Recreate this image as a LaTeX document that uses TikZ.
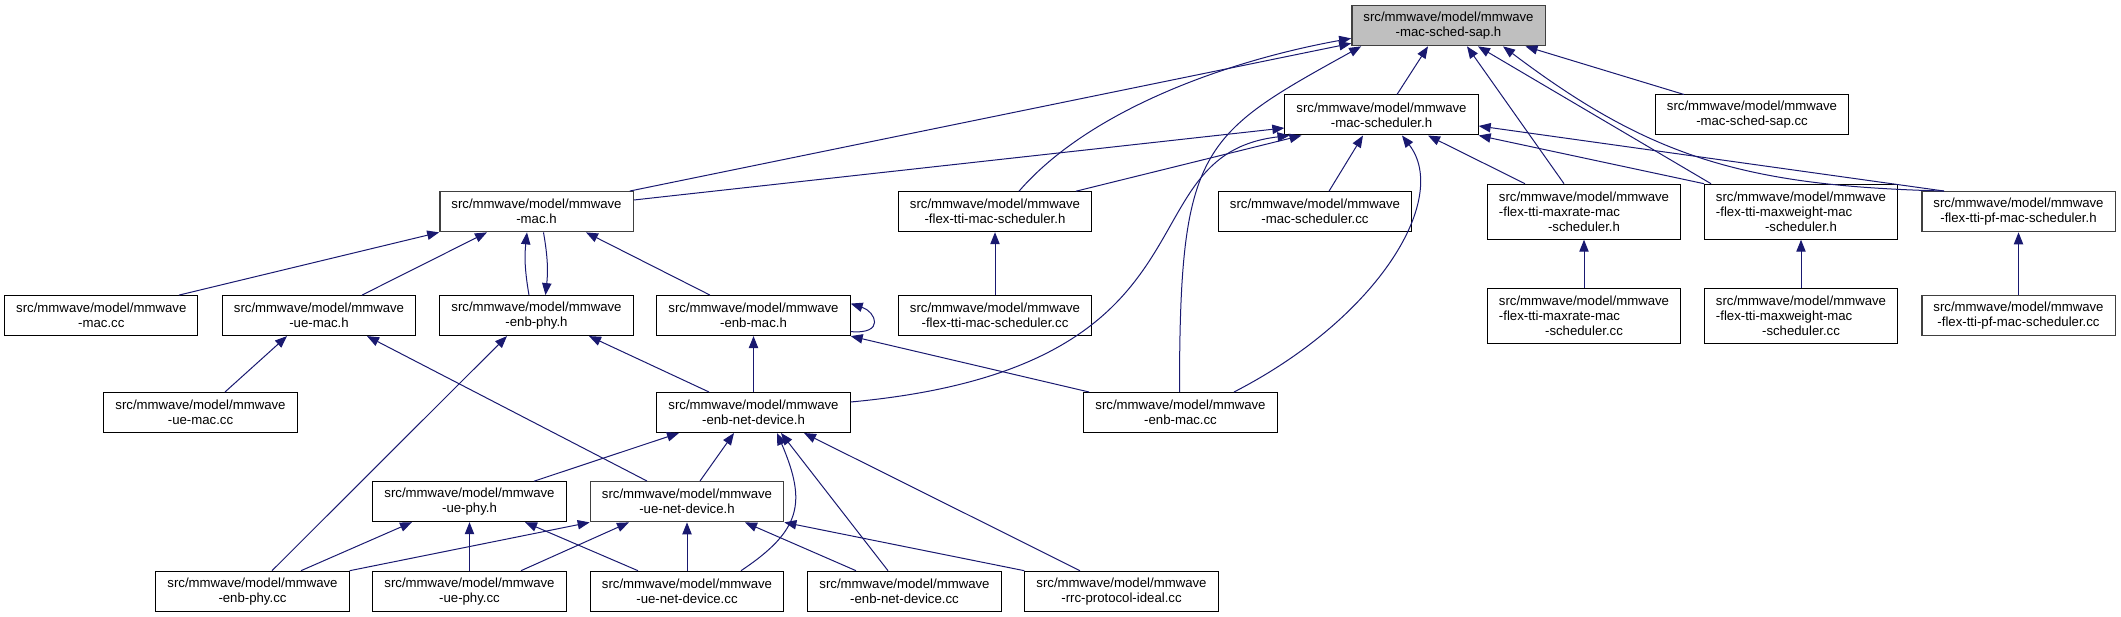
\documentclass[tikz,border=0pt]{standalone}
\usepackage{fontspec}
\setmainfont{Liberation Sans}
\usetikzlibrary{arrows.meta}
\definecolor{navy}{HTML}{191970}
\definecolor{rim}{HTML}{404040}
\newcommand{\pth}{src/mmwave/model/mmwave}
\newcommand{\padl}[1]{\rlap{#1}\phantom{\pth}}

\begin{document}
\begin{tikzpicture}[x=0.75pt, y=0.75pt, every node/.style={draw, rectangle, line width=0.75pt, minimum width=145pt, minimum height=30pt, inner sep=0pt, align=center, font=\fontsize{9.9}{11.25}\selectfont}, tall/.style={minimum height=41.25pt}, dim/.style={draw=rim, line width=1pt}, root/.style={dim, fill=gray!50}, inc/.style={draw=navy, line width=0.75pt, -{Triangle[length=9pt, width=7pt]}}]

		\useasboundingbox (0,0) rectangle (2121,617);

		% rank 0 and 1
		\node[root] (sap) at (1448.5,591.3) {\pth\\-mac-sched-sap.h};
		\node (msched) at (1381.5,502) {\pth\\-mac-scheduler.h};
		\node (sapcc) at (1752,502) {\pth\\-mac-sched-sap.cc};

		% rank 2
		\node[dim] (mac) at (536.5,405.3) {\pth\\-mac.h};
		\node (flexsched) at (995,405.3) {\pth\\-flex-tti-mac-scheduler.h};
		\node (mschedcc) at (1315,405.3) {\pth\\-mac-scheduler.cc};
		\node[tall] (maxrate) at (1584,405.3) {\pth\\\padl{-flex-tti-maxrate-mac}\\-scheduler.h};
		\node[tall] (maxweight) at (1801,405.3) {\pth\\\padl{-flex-tti-maxweight-mac}\\-scheduler.h};
		\node[dim] (pf) at (2018.5,405.3) {\pth\\-flex-tti-pf-mac-scheduler.h};

		% rank 3
		\node (maccc) at (101.3,301.4) {\pth\\-mac.cc};
		\node (uemac) at (319,301.4) {\pth\\-ue-mac.h};
		\node (enbphy) at (536.5,301.4) {\pth\\-enb-phy.h};
		\node (enbmac) at (753.5,301.4) {\pth\\-enb-mac.h};
		\node (flexschedcc) at (995,301.4) {\pth\\-flex-tti-mac-scheduler.cc};
		\node[tall] (maxratecc) at (1584,301.4) {\pth\\\padl{-flex-tti-maxrate-mac}\\-scheduler.cc};
		\node[tall] (maxweightcc) at (1801,301.4) {\pth\\\padl{-flex-tti-maxweight-mac}\\-scheduler.cc};
		\node[dim] (pfcc) at (2018.5,301.4) {\pth\\-flex-tti-pf-mac-scheduler.cc};

		% rank 4 and 5
		\node (uemaccc) at (200.5,204.5) {\pth\\-ue-mac.cc};
		\node (enbnetdev) at (753.5,204.5) {\pth\\-enb-net-device.h};
		\node (enbmaccc) at (1180.5,204.5) {\pth\\-enb-mac.cc};
		\node (uephy) at (469.5,115.3) {\pth\\-ue-phy.h};
		\node[dim] (uenetdev) at (687,115.3) {\pth\\-ue-net-device.h};

		% rank 6
		\node (enbphycc) at (252.5,25.8) {\pth\\-enb-phy.cc};
		\node (uephycc) at (469.5,25.8) {\pth\\-ue-phy.cc};
		\node (uenetdevcc) at (687,25.8) {\pth\\-ue-net-device.cc};
		\node (enbnetdevcc) at (904.5,25.8) {\pth\\-enb-net-device.cc};
		\node (rrccc) at (1121.5,25.8) {\pth\\-rrc-protocol-ideal.cc};

		% to mac-sched-sap.h
		\draw[inc] ([shift={(-4,0)}]mac.north east) -- ([shift={(0,3)}]sap.south west);
		\draw[inc] ([shift={(24,0)}]flexsched.north) .. controls +(71,82) and +(-122,-22) .. ([shift={(0,8)}]sap.south west);
		\draw[inc] ([shift={(-1,0)}]enbmaccc.north) .. controls +(0,245) and +(-161,-89) .. ([shift={(10,0)}]sap.south west);
		\draw[inc] ([shift={(15.5,0)}]msched.north) -- ([shift={(-20.5,0)}]sap.south);
		\draw[inc] ([shift={(-20,0)}]maxrate.north) -- ([shift={(18.5,0)}]sap.south);
		\draw[inc] ([shift={(-90,0)}]maxweight.north) -- ([shift={(29.5,0)}]sap.south);
		\draw[inc] ([shift={(-74.5,0)}]pf.north) .. controls +(-200,5) and +(147,-111) .. ([shift={(54.5,0)}]sap.south);
		\draw[inc] ([shift={(-68,0)}]sapcc.north) -- ([shift={(77,0)}]sap.south);

		% to mac-scheduler.h
		\draw[inc] ([shift={(0,11.7)}]mac.east) -- ([shift={(0,-13)}]msched.west);
		\draw[inc] ([shift={(81,0)}]flexsched.north) -- ([shift={(-80,0)}]msched.south);
		\draw[inc] ([shift={(0,10.5)}]enbnetdev.east) .. controls +(380,35) and +(-169,-20) .. ([shift={(-92,0)}]msched.south);
		\draw[inc] ([shift={(14,0)}]mschedcc.north) -- ([shift={(-18.5,0)}]msched.south);
		\draw[inc] ([shift={(53.5,0)}]enbmaccc.north) .. controls +(146,75) and +(48,-62) .. ([shift={(20.5,0)}]msched.south);
		\draw[inc] ([shift={(-59,0)}]maxrate.north) -- ([shift={(46.5,0)}]msched.south);
		\draw[inc] ([shift={(-97,0)}]maxweight.north) -- (msched.south east);
		\draw[inc] ([shift={(-74.5,0)}]pf.north) -- ([shift={(0,-11)}]msched.east);

		% to mac.h
		\draw[inc] ([shift={(77.7,0)}]maccc.north) -- (mac.south west);
		\draw[inc] ([shift={(43,0)}]uemac.north) -- ([shift={(-49.5,0)}]mac.south);
		\draw[inc] ([shift={(-7.5,0)}]enbphy.north) to[bend left=8] ([shift={(-9.5,0)}]mac.south);
		\draw[inc] ([shift={(7,0)}]mac.south) to[bend left=8] ([shift={(9,0)}]enbphy.north);
		\draw[inc] ([shift={(-43.5,0)}]enbmac.north) -- ([shift={(49.5,0)}]mac.south);

		% scheduler sources
		\draw[inc] (flexschedcc) -- (flexsched);
		\draw[inc] (maxratecc) -- (maxrate);
		\draw[inc] (maxweightcc) -- (maxweight);
		\draw[inc] (pfcc) -- (pf);

		% to ue-mac.h and enb-phy.h
		\draw[inc] ([shift={(24.5,0)}]uemaccc.north) -- ([shift={(-32,0)}]uemac.south);
		\draw[inc] ([shift={(-40,0)}]uenetdev.north) -- ([shift={(48,0)}]uemac.south);
		\draw[inc] ([shift={(19.5,0)}]enbphycc.north) -- ([shift={(-29.5,0)}]enbphy.south);
		\draw[inc] ([shift={(-44.5,0)}]enbnetdev.north) -- ([shift={(52.5,0)}]enbphy.south);

		% to enb-mac.h
		\draw[inc] ([shift={(0,-16)}]enbmac.east) .. controls +(35,-3) and +(25,-8) .. ([shift={(0,12)}]enbmac.east);
		\draw[inc] (enbnetdev) -- (enbmac);
		\draw[inc] ([shift={(-91.5,0)}]enbmaccc.north) -- (enbmac.south east);

		% to enb-net-device.h
		\draw[inc] ([shift={(64.5,0)}]uephy.north) -- ([shift={(-74.5,0)}]enbnetdev.south);
		\draw[inc] ([shift={(13,0)}]uenetdev.north) -- ([shift={(-19.5,0)}]enbnetdev.south);
		\draw[inc] ([shift={(54,0)}]uenetdevcc.north) .. controls +(60,40) and +(30,-70) .. ([shift={(23.5,0)}]enbnetdev.south);
		\draw[inc] ([shift={(-16.5,0)}]enbnetdevcc.north) -- ([shift={(27.5,0)}]enbnetdev.south);
		\draw[inc] ([shift={(-41.5,0)}]rrccc.north) -- ([shift={(50.5,0)}]enbnetdev.south);

		% to ue-phy.h
		\draw[inc] ([shift={(48.5,0)}]enbphycc.north) -- ([shift={(-57.5,0)}]uephy.south);
		\draw[inc] (uephycc) -- (uephy);
		\draw[inc] ([shift={(-49,0)}]uenetdevcc.north) -- ([shift={(55.5,0)}]uephy.south);

		% to ue-net-device.h
		\draw[inc] (enbphycc.north east) -- (uenetdev.south west);
		\draw[inc] ([shift={(51.5,0)}]uephycc.north) -- ([shift={(-58,0)}]uenetdev.south);
		\draw[inc] (uenetdevcc) -- (uenetdev);
		\draw[inc] ([shift={(-48.5,0)}]enbnetdevcc.north) -- ([shift={(58,0)}]uenetdev.south);
		\draw[inc] (rrccc.north west) -- (uenetdev.south east);

	\end{tikzpicture}
\end{document}
